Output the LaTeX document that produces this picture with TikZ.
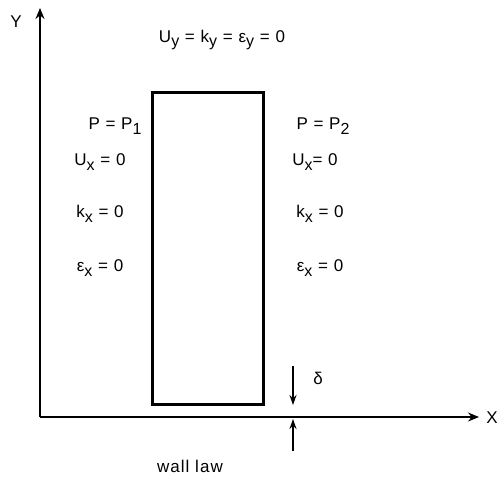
\documentclass[tikz,border=0pt]{standalone}
\usepackage{fontspec}
\setmainfont{Liberation Sans}[LetterSpace=6]
\usetikzlibrary{arrows.meta}
\newcommand\lo[1]{\raisebox{-0.55ex}{\fontsize{16}{18}\selectfont #1}}
\begin{document}
\begin{tikzpicture}[x=1pt,y=-1pt,
  lbl/.style={font=\fontsize{17}{20}\selectfont, inner sep=0pt},
  ax/.style={line width=1.6pt, -{Stealth[length=11pt,width=9pt]}},
  small/.style={line width=1.6pt, -{Stealth[length=10pt,width=7pt]}}]
\useasboundingbox (0,0) rectangle (501,480);
% axes
\coordinate (O) at (40,417);
\coordinate (Ytip) at (40,8);
\coordinate (Xtip) at (479,417);
\draw[ax] (O) -- (Ytip);
\draw[ax] (O) -- (Xtip);
\node[lbl] (Y) at (16,22) {Y};
\node[lbl] (X) at (492,418) {X};
% rectangle
\node[draw, line width=3pt, minimum width=111pt, minimum height=312pt, inner sep=0pt] (box) at (207.5,248) {};
% top label
\node[lbl] (top) at (222,40) {U\lo{y} = k\lo{y} = ε\lo{y} = 0};
% left labels
\node[lbl] (lp) at (115,126) {P = P\lo{1}};
\node[lbl] (lu) at (100,162) {U\lo{x} = 0};
\node[lbl] (lk) at (100,214) {k\lo{x} = 0};
\node[lbl] (le) at (100,268) {ε\lo{x} = 0};
% right labels
\node[lbl] (rp) at (323,126) {P = P\lo{2}};
\node[lbl] (ru) at (315,162) {U\lo{x}= 0};
\node[lbl] (rk) at (320,214) {k\lo{x} = 0};
\node[lbl] (re) at (320,268) {ε\lo{x} = 0};
% delta
\coordinate (d1) at (293,366);
\coordinate (d2) at (293,405);
\draw[small] (d1) -- (d2);
\node[lbl] (delta) at (318,378) {δ};
\coordinate (w1) at (293,451);
\coordinate (w2) at (293,419);
\draw[small] (w1) -- (w2);
\node[lbl] (wall) at (190,466) {wall law};
\end{tikzpicture}
\end{document}
